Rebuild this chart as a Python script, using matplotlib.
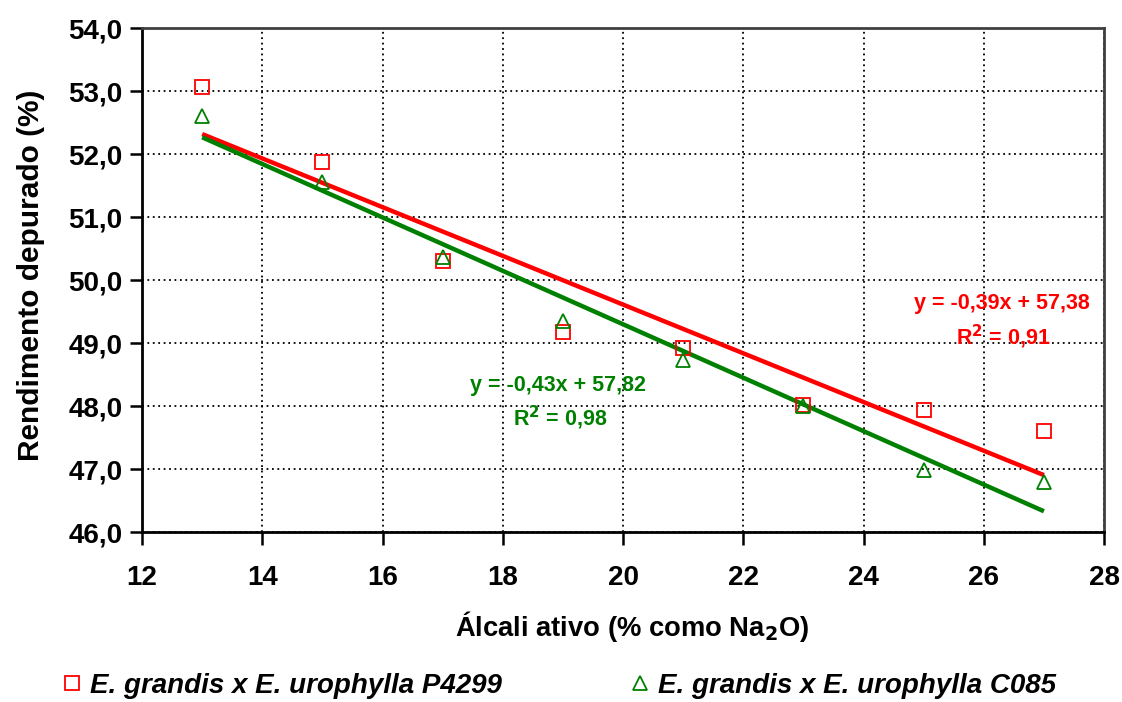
import numpy as np
import matplotlib
matplotlib.use('Agg')
import matplotlib.pyplot as plt
from matplotlib.ticker import FuncFormatter
from matplotlib.lines import Line2D

plt.rcParams['font.family'] = ['Liberation Sans', 'DejaVu Sans']
plt.rcParams['font.weight'] = 'bold'

# Data
alcali = [13, 15, 17, 19, 21, 23, 25, 27]
p4299 = [53.06, 51.87, 50.30, 49.17, 48.93, 48.02, 47.94, 47.60]
c085 = [52.60, 51.56, 50.37, 49.35, 48.73, 48.00, 46.98, 46.80]
eq_p4299 = ['y = -0,39x + 57,38', 'R$^2$ = 0,91']
eq_c085 = ['y = -0,43x + 57,82', 'R$^2$ = 0,98']
labels = ['E. grandis x E. urophylla P4299', 'E. grandis x E. urophylla C085']

red = '#FF0000'
green = '#008000'

fig = plt.figure(figsize=(11.22, 7.02), dpi=100)
ax = fig.add_axes([0.1266, 0.242, 0.8574, 0.718])

x = np.array(alcali)

# trend lines (least squares fit of each series)
for ys, col in [(p4299, red), (c085, green)]:
    k, b = np.polyfit(x, ys, 1)
    ax.plot([x.min(), x.max()], [k * x.min() + b, k * x.max() + b], color=col, lw=3.2,
            solid_capstyle='butt', zorder=3)

ax.plot(x, p4299, ls='none', marker='s', ms=10, mfc='none', mec=red, mew=1.3, zorder=4)
ax.plot(x, c085, ls='none', marker='^', ms=10, mfc='none', mec=green, mew=1.3, zorder=4)

ax.set_xlim(12, 28)
ax.set_ylim(46, 54)
ax.set_xticks(range(12, 29, 2))
ax.set_yticks(np.arange(46, 54.1, 1))
ax.yaxis.set_major_formatter(FuncFormatter(lambda v, p: ('%.1f' % v).replace('.', ',')))
ax.tick_params(axis='both', direction='out', length=9, width=1.8, labelsize=20, color='black')
ax.tick_params(axis='x', pad=15)
ax.tick_params(axis='y', pad=5)
for t in ax.get_xticklabels() + ax.get_yticklabels():
    t.set_fontweight('bold')

ax.grid(True, color='black', ls=(0, (1, 2)), lw=1.3)
ax.set_axisbelow(True)
for s in ['left', 'bottom']:
    ax.spines[s].set_linewidth(2)
    ax.spines[s].set_color('black')
for s in ['top', 'right']:
    ax.spines[s].set_linewidth(2)
    ax.spines[s].set_color('#404040')

ax.set_xlabel('Álcali ativo (% como Na$_\\mathbf{2}$O)', fontsize=19.7, fontweight='bold')
ax.xaxis.set_label_coords(0.509, -0.153)
ax.set_ylabel('Rendimento depurado (%)', fontsize=21.5, fontweight='bold')
ax.yaxis.set_label_coords(-0.101, 0.51)

# equations
ax.text(26.3, 49.63, eq_p4299[0], color=red, fontsize=15.5, fontweight='bold', ha='center', va='center')
ax.text(26.33, 49.10, eq_p4299[1], color=red, fontsize=15.5, fontweight='bold', ha='center', va='center')
ax.text(18.92, 48.32, eq_c085[0], color=green, fontsize=15.5, fontweight='bold', ha='center', va='center')
ax.text(18.95, 47.81, eq_c085[1], color=green, fontsize=15.5, fontweight='bold', ha='center', va='center')

# legend at the bottom
handles = [Line2D([], [], ls='none', marker='s', ms=10, mfc='none', mec=red, mew=1.3),
           Line2D([], [], ls='none', marker='^', ms=10, mfc='none', mec=green, mew=1.3)]
leg = fig.legend(handles, labels, loc='center', bbox_to_anchor=(0.499, 0.023), ncol=2, frameon=False,
                 prop={'size': 20, 'weight': 'bold', 'style': 'italic'}, handlelength=0.6,
                 handletextpad=0.35, columnspacing=4.7)

fig.savefig('out.png', dpi=100)
